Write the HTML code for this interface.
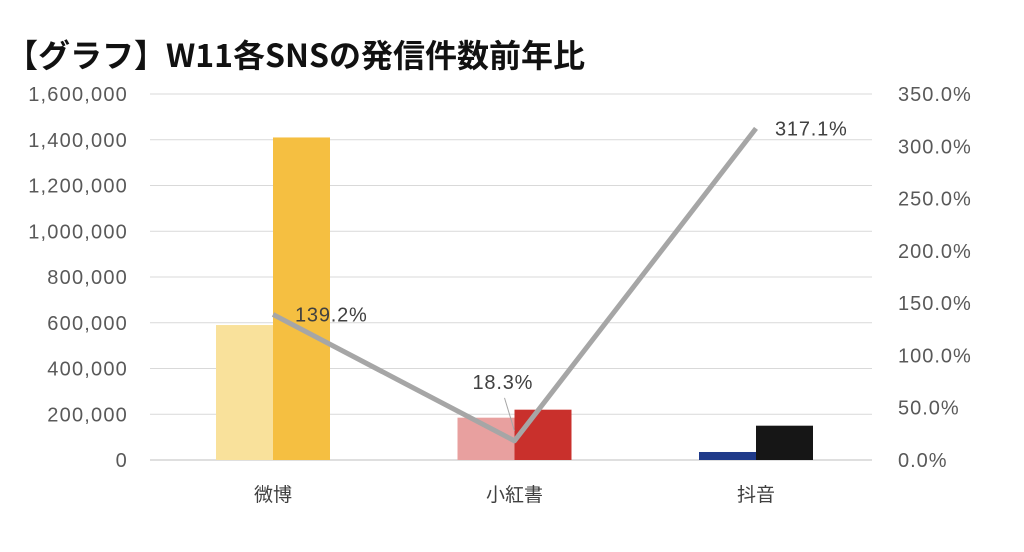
<!DOCTYPE html>
<html><head><meta charset="utf-8"><style>
body{margin:0;background:#fff;}
svg{display:block;font-family:"Liberation Sans","Noto Sans CJK JP",sans-serif;}
</style></head><body>
<svg id="chart" width="1024" height="552" viewBox="0 0 1024 552" xmlns="http://www.w3.org/2000/svg">
<rect width="1024" height="552" fill="#fff"/>
<text x="6" y="67" font-size="32" font-weight="bold" fill="#111" font-family="'Noto Sans CJK JP','Liberation Sans',sans-serif">【グラフ】W11各SNSの発信件数前年比</text>
<g id="grid"></g><g id="bars"></g><g id="line"></g><g id="labels"></g>
</svg>
<script>
const categories=["微博","小紅書","抖音"];
const prevValues=[590000,185000,35000];
const currValues=[1410000,220000,150000];
const ratios=[139.2,18.3,317.1];
const leftTicks=[0,200000,400000,600000,800000,1000000,1200000,1400000,1600000];
const rightTicks=[0,50,100,150,200,250,300,350];
const prevColors=["#f9e19b","#e8a09f","#1f3a8a"];
const currColors=["#f5bf41","#c9302c","#161616"];
const NS="http://www.w3.org/2000/svg";
const y0=460,yTop=94,xL=150,xR=872;
const yL=v=>y0-(v/1600000)*(y0-yTop);
const yR=v=>y0-(v/350)*(y0-yTop);
const xC=i=>273+i*241.5;
function mk(tag,attrs,parent){const e=document.createElementNS(NS,tag);for(const k in attrs)e.setAttribute(k,attrs[k]);parent.appendChild(e);return e;}
const g=document.getElementById('grid'),b=document.getElementById('bars'),l=document.getElementById('line'),lb=document.getElementById('labels');
const fmt=v=>v.toLocaleString('en-US');
leftTicks.forEach(v=>{
 const ln=mk('line',{x1:xL,x2:xR,y1:yL(v),y2:yL(v),stroke:v===0?'#bfbfbf':'#d9d9d9','stroke-width':1},g);
 
 
 const t=mk('text',{x:128,y:yL(v)+7,'text-anchor':'end','font-size':20,'letter-spacing':1.2,fill:'#595959'},g);
 t.textContent=fmt(v);
 
 
});
rightTicks.forEach(v=>{
 const t=mk('text',{x:898,y:yR(v)+7,'font-size':20,'letter-spacing':1,fill:'#595959'},g);
 t.textContent=v.toFixed(1)+'%';
 
 
});
categories.forEach((c,i)=>{
 const cx=xC(i),w=57;
 const r1=mk('rect',{x:cx-w,y:yL(prevValues[i]),width:w,height:y0-yL(prevValues[i]),fill:prevColors[i]},b);
 
 
 const r2=mk('rect',{x:cx,y:yL(currValues[i]),width:w,height:y0-yL(currValues[i]),fill:currColors[i]},b);
 
 
 const t=mk('text',{x:cx,y:501,'text-anchor':'middle','font-size':19,fill:'#404040'},lb);
 t.textContent=c;
 
 
});
const pts=ratios.map((r,i)=>xC(i)+','+yR(r)).join(' ');
const pl=mk('polyline',{points:pts,fill:'none',stroke:'#a6a6a6','stroke-width':5,'stroke-linejoin':'round'},l);


const offs=[[22,7],[-42,-52],[19,7]];
ratios.forEach((r,i)=>{
 const t=mk('text',{x:xC(i)+offs[i][0],y:yR(r)+offs[i][1],'font-size':20,'letter-spacing':0.8,fill:'#404040'},lb);
 t.textContent=r.toFixed(1)+'%';
 
 
});
const ld=mk('line',{x1:xC(1)-10,y1:yR(ratios[1])-43,x2:xC(1),y2:yR(ratios[1])-10,stroke:'#a6a6a6','stroke-width':1},lb);


</script>
</body></html>
